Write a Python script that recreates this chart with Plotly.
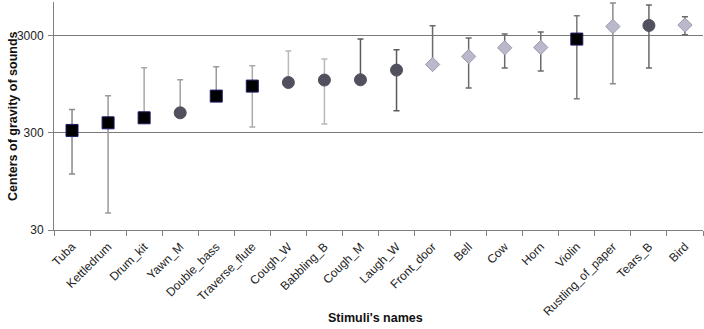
import plotly.graph_objects as go

categories = ["Tuba", "Kettledrum", "Drum_kit", "Yawn_M", "Double_bass", "Traverse_flute",
              "Cough_W", "Babbling_B", "Cough_M", "Laugh_W", "Front_door", "Bell", "Cow",
              "Horn", "Violin", "Rustling_of_paper", "Tears_B", "Bird"]
centers = [318, 381, 429, 483, 718, 910, 991, 1050, 1057, 1330, 1518, 1836, 2257, 2274,
           2775, 3740, 3832, 3868]
upper = [523, 723, 1404, 1056, 1438, 1473, 2088, 1726, 2776, 2152, 3805, 2841, 3124, 3276,
         4821, 6516, 6212, 4707]
lower = [113, 44.8, 429, 483, 718, 344, 991, 370, 1057, 507, 1518, 868, 1395, 1299,
         673, 961, 1395, 3071]
groups = ["instrument", "instrument", "instrument", "human", "instrument", "instrument",
          "human", "human", "human", "human", "environment", "environment", "environment",
          "environment", "instrument", "environment", "human", "environment"]

marker_styles = {
    "instrument": dict(symbol="square", size=12, color="#000000", line=dict(color="#1a1a66", width=1)),
    "human": dict(symbol="circle", size=12, color="#50505e", line=dict(color="#50505e", width=1)),
    "environment": dict(symbol="diamond", size=11, color="#b9b9cb", line=dict(color="#9a9aab", width=1)),
}
bar_colors = ["#8a8a8a", "#9a9a9a", "#a8a8a8", "#a0a0a0", "#9a9a9a", "#ababab",
              "#b8b8b8", "#b8b8b8", "#5a5a5a", "#5a5a5a", "#6a6a6a", "#6a6a6a", "#6a6a6a",
              "#6a6a6a", "#7a7a7a", "#8a8a8a", "#6a6a6a", "#6a6a6a"]

fig = go.Figure()
for i, cat in enumerate(categories):
    fig.add_trace(go.Scatter(
        x=[cat], y=[centers[i]], mode="markers",
        marker=marker_styles[groups[i]],
        error_y=dict(type="data", symmetric=False,
                     array=[upper[i] - centers[i]], arrayminus=[centers[i] - lower[i]],
                     color=bar_colors[i], thickness=1.5, width=3),
        showlegend=False, hoverinfo="x+y",
    ))

fig.update_layout(
    width=704, height=329,
    margin=dict(l=54, r=1, t=2, b=99),
    paper_bgcolor="white", plot_bgcolor="white",
    font=dict(family="Liberation Sans, Arial, sans-serif", size=12, color="#222222"),
    showlegend=False,
)
fig.update_xaxes(
    type="category", categoryorder="array", categoryarray=categories,
    range=[-0.5, len(categories) - 0.5], automargin=False,
    showline=True, linecolor="#808080", linewidth=1,
    ticks="outside", tickson="boundaries", ticklen=5, tickcolor="#808080",
    tickangle=-45, tickfont=dict(size=12, color="#222222"), ticklabelstandoff=4,
    showgrid=False, zeroline=False,
)
fig.update_yaxes(
    type="log", range=[1.4771, 3.825], automargin=False,
    tickvals=[30, 300, 3000], ticktext=["30", "300", "3000"],
    showline=True, linecolor="#808080", linewidth=1,
    ticks="outside", ticklen=5, tickcolor="#808080",
    tickfont=dict(size=12, color="#222222"), ticklabelstandoff=2,
    showgrid=True, gridcolor="#7a7a7a", gridwidth=1, zeroline=False,
)
fig.add_annotation(text="<b>Centers of gravity of sounds</b>", xref="paper", yref="paper",
                   x=-0.0632, y=0.5, textangle=-90, showarrow=False,
                   font=dict(size=12.5, color="#111111"), xanchor="center", yanchor="middle")
fig.add_annotation(text="<b>Stimuli's names</b>", xref="paper", yref="paper",
                   x=0.495, y=-0.386, showarrow=False,
                   font=dict(size=12.5, color="#111111"), xanchor="center", yanchor="middle")

fig.write_html("out.html", post_script="document.body.style.margin='0';",
               config={"displayModeBar": False})
